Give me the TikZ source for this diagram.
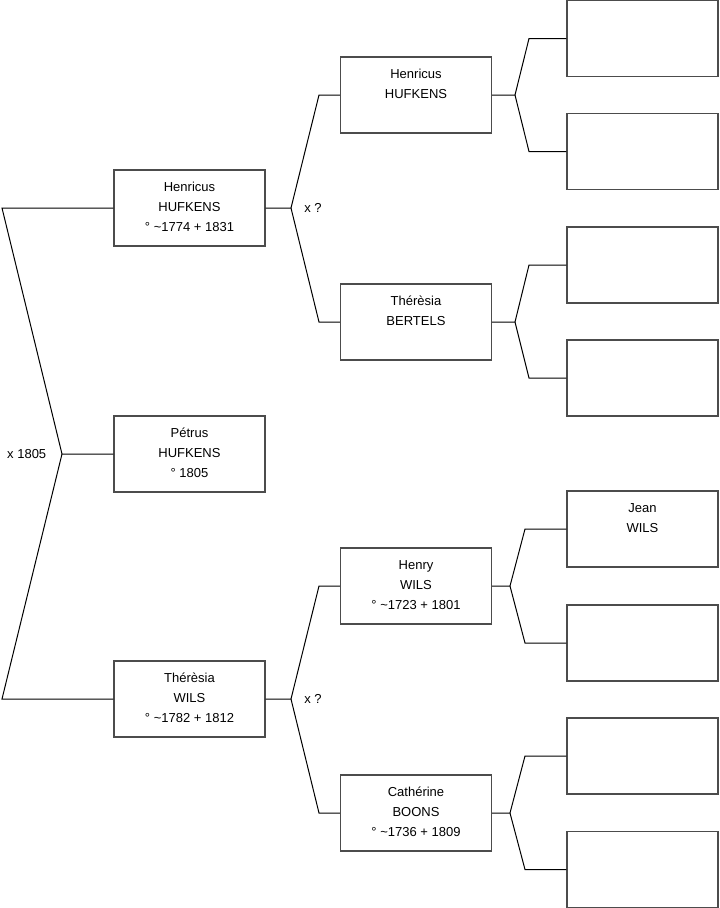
\documentclass[tikz,border=0pt]{standalone}
\usepackage{fontspec}
\setmainfont{Liberation Sans}
\begin{document}
\begin{tikzpicture}[x=0.75pt,y=-0.75pt,
  pbox/.style={draw=black!70, line width=0.8pt, minimum width=113.25pt, minimum height=57pt, inner sep=0pt},
  ptext/.style={inner sep=0pt, align=center, font=\fontsize{9.75}{15}\selectfont},
  conn/.style={draw=black, line width=0.75pt},
  lab/.style={inner sep=0pt, font=\fontsize{9.75}{15}\selectfont}]
\useasboundingbox (0,0) rectangle (719,908);
\newcommand\pers[4]{%
  \node[pbox] (#1) at (#2,#3) {};
  \node[ptext, anchor=north] (#1t) at ([yshift=-4.125pt]#1.north) {\rule{0pt}{12pt}#4};}
\newcommand\blank[3]{\node[pbox] (#1) at (#2,#3) {};}
% generation 1
\pers{p0}{189.5}{454}{Pétrus\\HUFKENS\\° 1805}
\pers{p1}{189.5}{208}{Henricus\\HUFKENS\\° \textasciitilde1774 + 1831}
\pers{p2}{189.5}{699}{Thérèsia\\WILS\\° \textasciitilde1782 + 1812}
% generation 2
\pers{p3}{416}{95}{Henricus\\HUFKENS}
\pers{p4}{416}{322}{Thérèsia\\BERTELS}
\pers{p5}{416}{586}{Henry\\WILS\\° \textasciitilde1723 + 1801}
\pers{p6}{416}{813}{Cathérine\\BOONS\\° \textasciitilde1736 + 1809}
% generation 3
\blank{q1}{642.5}{38.5}
\blank{q2}{642.5}{151.5}
\blank{q3}{642.5}{265}
\blank{q4}{642.5}{378}
\pers{q5}{642.5}{529}{Jean\\WILS}
\blank{q6}{642.5}{643}
\blank{q7}{642.5}{756}
\blank{q8}{642.5}{869.5}
% fork points
\coordinate (f0) at (62,454);
\coordinate (f1) at (291,208);
\coordinate (f2) at (291,699);
\coordinate (f3) at (515,95);
\coordinate (f4) at (515,322);
\coordinate (f5) at (510,586);
\coordinate (f6) at (510,813);
% connectors
\draw[conn] (p0.west) -- (f0) -- (2,208) -- (p1.west);
\draw[conn] (f0) -- (2,699) -- (p2.west);
\draw[conn] (p1.east) -- (f1) -- (319,95) -- (p3.west);
\draw[conn] (f1) -- (319,322) -- (p4.west);
\draw[conn] (p2.east) -- (f2) -- (319,586) -- (p5.west);
\draw[conn] (f2) -- (319,813) -- (p6.west);
\draw[conn] (p3.east) -- (f3) -- (529,38.5) -- (q1.west);
\draw[conn] (f3) -- (529,151.5) -- (q2.west);
\draw[conn] (p4.east) -- (f4) -- (529,265) -- (q3.west);
\draw[conn] (f4) -- (529,378) -- (q4.west);
\draw[conn] (p5.east) -- (f5) -- (525,529) -- (q5.west);
\draw[conn] (f5) -- (525,643) -- (q6.west);
\draw[conn] (p6.east) -- (f6) -- (525,756) -- (q7.west);
\draw[conn] (f6) -- (525,869.5) -- (q8.west);
% labels
\node[lab, anchor=east] (l0) at (46.5,454) {x 1805};
\node[lab, anchor=west] (l1) at (304,208) {x ?};
\node[lab, anchor=west] (l2) at (304,699) {x ?};
\end{tikzpicture}
\end{document}
